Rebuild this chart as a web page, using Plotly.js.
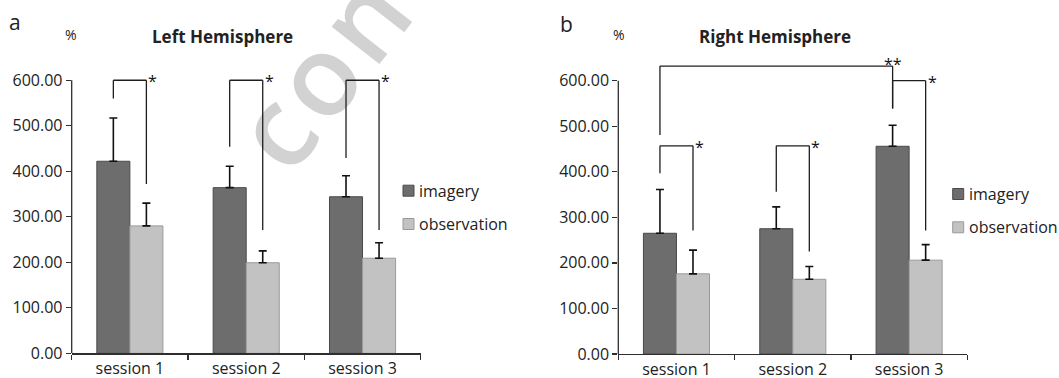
<!DOCTYPE html>
<html>
<head>
<meta charset="utf-8">
<script src="https://cdn.plot.ly/plotly-3.0.1.min.js"></script>
<style>html,body{margin:0;padding:0;background:#fff}#chart{width:1059px;height:378px}</style>
</head>
<body>
<div id="chart"></div>
<script>
// ---------- data ----------
const sessions = ['session 1', 'session 2', 'session 3'];
const seriesNames = ['imagery', 'observation'];

const leftImagery = [422, 364, 344];
const leftImageryErr = [95, 47, 46];
const leftObservation = [280, 199, 209];
const leftObservationErr = [50, 26, 34];

const rightImagery = [265, 275, 456];
const rightImageryErr = [96, 48, 46];
const rightObservation = [176, 164, 206];
const rightObservationErr = [52, 28, 34];

const yTickValues = [0, 100, 200, 300, 400, 500, 600];
const yTickLabels = ['0.00', '100.00', '200.00', '300.00', '400.00', '500.00', '600.00'];

const panelTitles = ['Left Hemisphere', 'Right Hemisphere'];
const panelLetters = ['a', 'b'];
const unitLabel = '%';

// significance brackets: [fromSession, fromSeries, toSession, toSeries, fromBottom, top, toBottom, label]
const leftBrackets = [
  [0, 0, 0, 1, 560, 600, 372, '*'],
  [1, 0, 1, 1, 454, 600, 271, '*'],
  [2, 0, 2, 1, 429, 600, 271, '*']
];
const rightBrackets = [
  [0, 0, 0, 1, 397, 457, 271, '*'],
  [1, 0, 1, 1, 356, 457, 225, '*'],
  [0, 0, 2, 0, 481, 632, 539, '**'],
  [2, 0, 2, 1, 539, 600, 271, '*']
];

// ---------- styling ----------
const W = 1059, H = 378;
const FONT = 'Open Sans, sans-serif';
const TXT = '#222222';
const AX = '#2e2e2e';
const colImagery = '#6d6d6d';
const colImageryLine = '#4a4a4a';
const colObs = '#c2c2c2';
const colObsLine = '#9a9a9a';
const BARGAP = 0.432;
const half = (1 - BARGAP) / 4; // offset of each bar centre from category centre

const px = v => v / W;
const py = v => 1 - v / H;

const panels = [
  {xd: [px(71.7), px(420.7)], yd: [py(353.3), py(57.5)], xa: 'x', ya: 'y',
   imag: leftImagery, imagErr: leftImageryErr, obs: leftObservation, obsErr: leftObservationErr,
   brackets: leftBrackets, legend: {sx: 403, tx: 417, y1: 190.7, y2: 224},
   title: {x: 222.8, y: 36}, letter: {x: 15.3, y: 22}, unit: {x: 70.8, y: 35}},
  {xd: [px(618.3), px(967.3)], yd: [py(354), py(57.9)], xa: 'x2', ya: 'y2',
   imag: rightImagery, imagErr: rightImageryErr, obs: rightObservation, obsErr: rightObservationErr,
   brackets: rightBrackets, legend: {sx: 952.7, tx: 967, y1: 194, y2: 227.3},
   title: {x: 775.3, y: 36}, letter: {x: 566.7, y: 24}, unit: {x: 619.5, y: 35}}
];

const traces = [];
const shapes = [];
const annotations = [];
const axisStyle = {
  showgrid: false, zeroline: false, fixedrange: true
};
const layout = {
  width: W, height: H,
  margin: {l: 0, r: 0, t: 0, b: 0},
  paper_bgcolor: '#ffffff',
  plot_bgcolor: 'rgba(0,0,0,0)',
  barmode: 'group', bargap: BARGAP, bargroupgap: 0,
  showlegend: false,
  font: {family: FONT, size: 16, color: TXT},
  shapes: shapes, annotations: annotations
};

panels.forEach((p, i) => {
  const errStyle = {type: 'data', symmetric: false, color: '#111111', thickness: 1.6, width: 4};
  traces.push({
    type: 'bar', name: seriesNames[0], x: sessions, y: p.imag, xaxis: p.xa, yaxis: p.ya,
    marker: {color: colImagery, line: {color: colImageryLine, width: 1}},
    error_y: Object.assign({array: p.imagErr, arrayminus: p.imagErr.map(() => 0)}, errStyle),
    hoverinfo: 'skip'
  });
  traces.push({
    type: 'bar', name: seriesNames[1], x: sessions, y: p.obs, xaxis: p.xa, yaxis: p.ya,
    marker: {color: colObs, line: {color: colObsLine, width: 1}},
    error_y: Object.assign({array: p.obsErr, arrayminus: p.obsErr.map(() => 0)}, errStyle),
    hoverinfo: 'skip'
  });

  const xKey = i === 0 ? 'xaxis' : 'xaxis2';
  const yKey = i === 0 ? 'yaxis' : 'yaxis2';
  layout[xKey] = Object.assign({}, axisStyle, {
    domain: p.xd, anchor: p.ya, type: 'category', categoryorder: 'array', categoryarray: sessions,
    showline: true, linecolor: AX, linewidth: 1.3,
    ticks: 'outside', tickson: 'boundaries', ticklen: 5, tickcolor: AX, tickwidth: 1.3,
    tickfont: {family: FONT, size: 16, color: TXT}
  });
  layout[yKey] = Object.assign({}, axisStyle, {
    domain: p.yd, anchor: p.xa, range: [0, 650],
    tickmode: 'array', tickvals: yTickValues, ticktext: yTickLabels,
    showline: false, ticks: 'outside', ticklen: 5, tickcolor: AX, tickwidth: 1.3,
    tickfont: {family: FONT, size: 16, color: TXT}
  });

  // y axis line up to the last tick
  shapes.push({type: 'line', xref: p.xa + ' domain', yref: p.ya, x0: 0, x1: 0,
    y0: yTickValues[0], y1: yTickValues[yTickValues.length - 1], line: {color: AX, width: 1.3}});

  // brackets
  p.brackets.forEach(b => {
    const xa = b[0] + (b[1] === 0 ? -half : half);
    const xb = b[2] + (b[3] === 0 ? -half : half);
    const ln = {color: '#1e1e1e', width: 1.3};
    shapes.push({type: 'line', xref: p.xa, yref: p.ya, x0: xa, x1: xa, y0: b[4], y1: b[5], line: ln});
    shapes.push({type: 'line', xref: p.xa, yref: p.ya, x0: xa, x1: xb, y0: b[5], y1: b[5], line: ln});
    shapes.push({type: 'line', xref: p.xa, yref: p.ya, x0: xb, x1: xb, y0: b[5], y1: b[6], line: ln});
    const dbl = b[7].length > 1;
    annotations.push({xref: p.xa, yref: p.ya, x: xb, y: b[5], text: b[7], showarrow: false,
      xanchor: dbl ? 'center' : 'left', yanchor: 'middle', xshift: 0, yshift: dbl ? 2 : -1,
      font: {family: FONT, size: 16, color: '#111'}});
  });

  // manual legend
  [[seriesNames[0], p.legend.y1, colImagery, colImageryLine], [seriesNames[1], p.legend.y2, colObs, colObsLine]].forEach(l => {
    shapes.push({type: 'rect', xref: 'paper', yref: 'paper', x0: px(p.legend.sx), x1: px(p.legend.sx + 11),
      y0: py(l[1] + 5.5), y1: py(l[1] - 5.5), fillcolor: l[2], line: {color: l[3], width: 1}});
    annotations.push({xref: 'paper', yref: 'paper', x: px(p.legend.tx), y: py(l[1]), text: l[0],
      showarrow: false, xanchor: 'left', yanchor: 'middle', font: {family: FONT, size: 16, color: TXT}});
  });

  annotations.push({xref: 'paper', yref: 'paper', x: px(p.title.x), y: py(p.title.y), text: '<b>' + panelTitles[i] + '</b>',
    showarrow: false, xanchor: 'center', yanchor: 'middle', font: {family: FONT, size: 17, color: TXT}});
  annotations.push({xref: 'paper', yref: 'paper', x: px(p.letter.x), y: py(p.letter.y), text: panelLetters[i],
    showarrow: false, xanchor: 'center', yanchor: 'middle', font: {family: FONT, size: 21, color: TXT}});
  annotations.push({xref: 'paper', yref: 'paper', x: px(p.unit.x), y: py(p.unit.y), text: unitLabel,
    showarrow: false, xanchor: 'center', yanchor: 'middle', font: {family: FONT, size: 14, color: TXT}});
});

// faint watermark behind the plot
const wm = '<svg xmlns="http://www.w3.org/2000/svg" width="' + W + '" height="' + H + '">' +
  '<g transform="translate(332,76) rotate(-52)"><text x="0" y="30" text-anchor="middle" letter-spacing="6" ' +
  'font-family="Open Sans, sans-serif" font-weight="600" font-size="112" fill="#d2d2d2">con</text></g></svg>';
layout.images = [{source: 'data:image/svg+xml;charset=utf-8,' + encodeURIComponent(wm),
  xref: 'paper', yref: 'paper', x: 0, y: 1, sizex: 1, sizey: 1, sizing: 'stretch',
  xanchor: 'left', yanchor: 'top', layer: 'below'}];

Plotly.newPlot('chart', traces, layout, {displayModeBar: false, staticPlot: true});
</script>
</body>
</html>
